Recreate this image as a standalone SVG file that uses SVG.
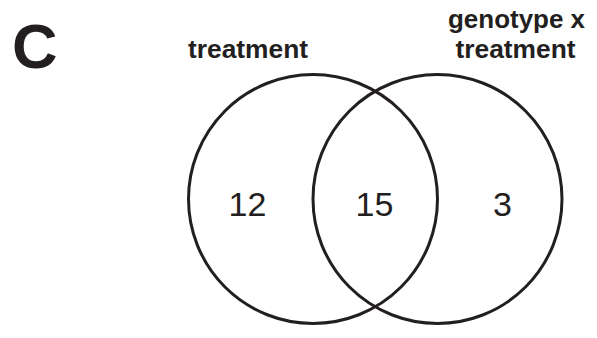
<svg xmlns="http://www.w3.org/2000/svg" width="597" height="338" viewBox="0 0 597 338">
<style>
.lbl{font-family:"Liberation Sans",Arial,sans-serif;font-weight:bold;fill:#231f20}
.num{font-family:"Liberation Sans",Arial,sans-serif;font-size:34px;fill:#231f20;text-anchor:middle}
.set{fill:none;stroke:#231f20;stroke-width:3}
</style>
<rect width="597" height="338" fill="#fff"/>
<text class="lbl" x="12" y="67.5" font-size="63">C</text>
<g id="treatment">
<circle class="set" cx="313" cy="199" r="124.5"/>
<text class="lbl" x="188" y="57.5" font-size="26.5" textLength="120" lengthAdjust="spacingAndGlyphs">treatment</text>
<text class="num" x="247.5" y="216">12</text>
</g>
<g id="genotype_x_treatment">
<circle class="set" cx="437.5" cy="199" r="124.5"/>
<text class="lbl" x="448" y="28" font-size="26.5" textLength="137" lengthAdjust="spacingAndGlyphs">genotype x</text>
<text class="lbl" x="455.5" y="57.5" font-size="26.5" textLength="120" lengthAdjust="spacingAndGlyphs">treatment</text>
<text class="num" x="502.5" y="216">3</text>
</g>
<g id="overlap">
<text class="num" x="374.5" y="216">15</text>
</g>
<g id="connectors"/>
</svg>
